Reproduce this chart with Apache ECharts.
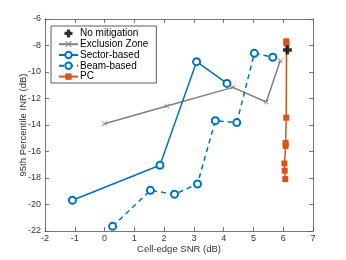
<!DOCTYPE html>
<html><head><meta charset="utf-8">
<script src="https://cdn.jsdelivr.net/npm/echarts@6/dist/echarts.min.js"></script>
<style>html,body{margin:0;padding:0;background:#fff}#c{width:346px;height:260px}</style>
</head><body><div id="c"></div>
<script>
var xTicks = [-2, 7, 1];
var yTicks = [-22, -6, 2];
var noMitigation = [[6.14, -8.34]];
var exclusionZone = [[0.0, -13.9], [2.09, -12.57], [4.31, -11.16], [5.43, -12.26], [5.9, -9.15]];
var sectorBased = [[-1.08, -19.68], [1.86, -17.04], [3.09, -9.22], [4.11, -10.86]];
var beamBased = [[0.27, -21.65], [1.54, -18.93], [2.35, -19.23], [3.12, -18.45], [3.72, -13.67], [4.44, -13.82], [5.03, -8.59], [5.65, -8.89]];
var pc = [[6.1, -7.68], [6.11, -7.85], [6.1, -13.45], [6.08, -15.35], [6.08, -15.58], [6.04, -16.9], [6.05, -17.45], [6.07, -18.08]];

var names = ['No mitigation', 'Exclusion Zone', 'Sector-based', 'Beam-based', 'PC'];
var plusPath = 'path://M3,0h4v3h3v4h-3v3h-4v-3h-3v-4h3z';
var xPath = 'path://M0,1L1,0L5,4L9,0L10,1L6,5L10,9L9,10L5,6L1,10L0,9L4,5Z';
var blue = '#0072BD', orange = '#D95319', gray = '#808080';
var axisColor = '#555';
var font = 'Liberation Sans, Arial, sans-serif';

function mainAxis(pos, t, name, gap) {
  return {
    type: 'value', position: pos, min: t[0], max: t[1], interval: t[2],
    name: name, nameLocation: 'middle', nameGap: gap, nameMoveOverlap: false,
    nameTextStyle: {fontSize: 9.5, color: '#333', fontFamily: font},
    axisLine: {show: true, onZero: false, lineStyle: {color: axisColor, width: 0.8}},
    axisTick: {show: true, inside: true, length: 4, lineStyle: {color: axisColor, width: 0.8}},
    axisLabel: {fontSize: 9, color: '#333', fontFamily: font, margin: pos === 'bottom' ? 3 : 4},
    splitLine: {show: false}
  };
}
function sideAxis(pos, t) {
  return {
    type: 'value', position: pos, min: t[0], max: t[1], interval: t[2],
    axisLine: {show: true, onZero: false, lineStyle: {color: axisColor, width: 0.8}},
    axisTick: {show: true, inside: true, length: 4, lineStyle: {color: axisColor, width: 0.8}},
    axisLabel: {show: false}, splitLine: {show: false}
  };
}

var chart = echarts.init(document.getElementById('c'), null, {renderer: 'canvas'});
chart.setOption({
  animation: false,
  backgroundColor: '#fff',
  grid: {left: 45, right: 33, top: 19, bottom: 29},
  xAxis: [mainAxis('bottom', xTicks, 'Cell-edge SNR (dB)', 13), sideAxis('top', xTicks)],
  yAxis: [mainAxis('left', yTicks, '95th Percentile INR (dB)', 17), sideAxis('right', yTicks)],
  legend: {
    data: names, orient: 'vertical', left: 51, top: 26,
    padding: [2, 8, 1, 7], itemGap: 0, itemWidth: 19, itemHeight: 8,
    borderColor: '#333', borderWidth: 0.8, backgroundColor: '#fff',
    textStyle: {fontSize: 10, color: '#000', fontFamily: font, lineHeight: 10.8, padding: [0, 0, 0, -3]}
  },
  series: [
    {name: names[1], type: 'line', data: exclusionZone, symbol: xPath, symbolSize: 5,
     lineStyle: {color: gray, width: 1.5}, itemStyle: {color: gray}, z: 2},
    {name: names[2], type: 'line', data: sectorBased, symbol: 'emptyCircle', symbolSize: 7,
     lineStyle: {color: blue, width: 1.5}, itemStyle: {color: blue, borderWidth: 1.5}, z: 3},
    {name: names[3], type: 'line', data: beamBased, symbol: 'emptyCircle', symbolSize: 7,
     lineStyle: {color: blue, width: 1.5, type: [5, 4]}, itemStyle: {color: blue, borderWidth: 1.5}, z: 3},
    {name: names[4], type: 'line', data: pc, symbol: 'rect', symbolSize: 6,
     lineStyle: {color: orange, width: 1.5}, itemStyle: {color: orange}, z: 4},
    {name: names[0], type: 'scatter', data: noMitigation, symbol: plusPath, symbolSize: 9,
     itemStyle: {color: '#000'}, z: 5}
  ]
});
</script></body></html>
